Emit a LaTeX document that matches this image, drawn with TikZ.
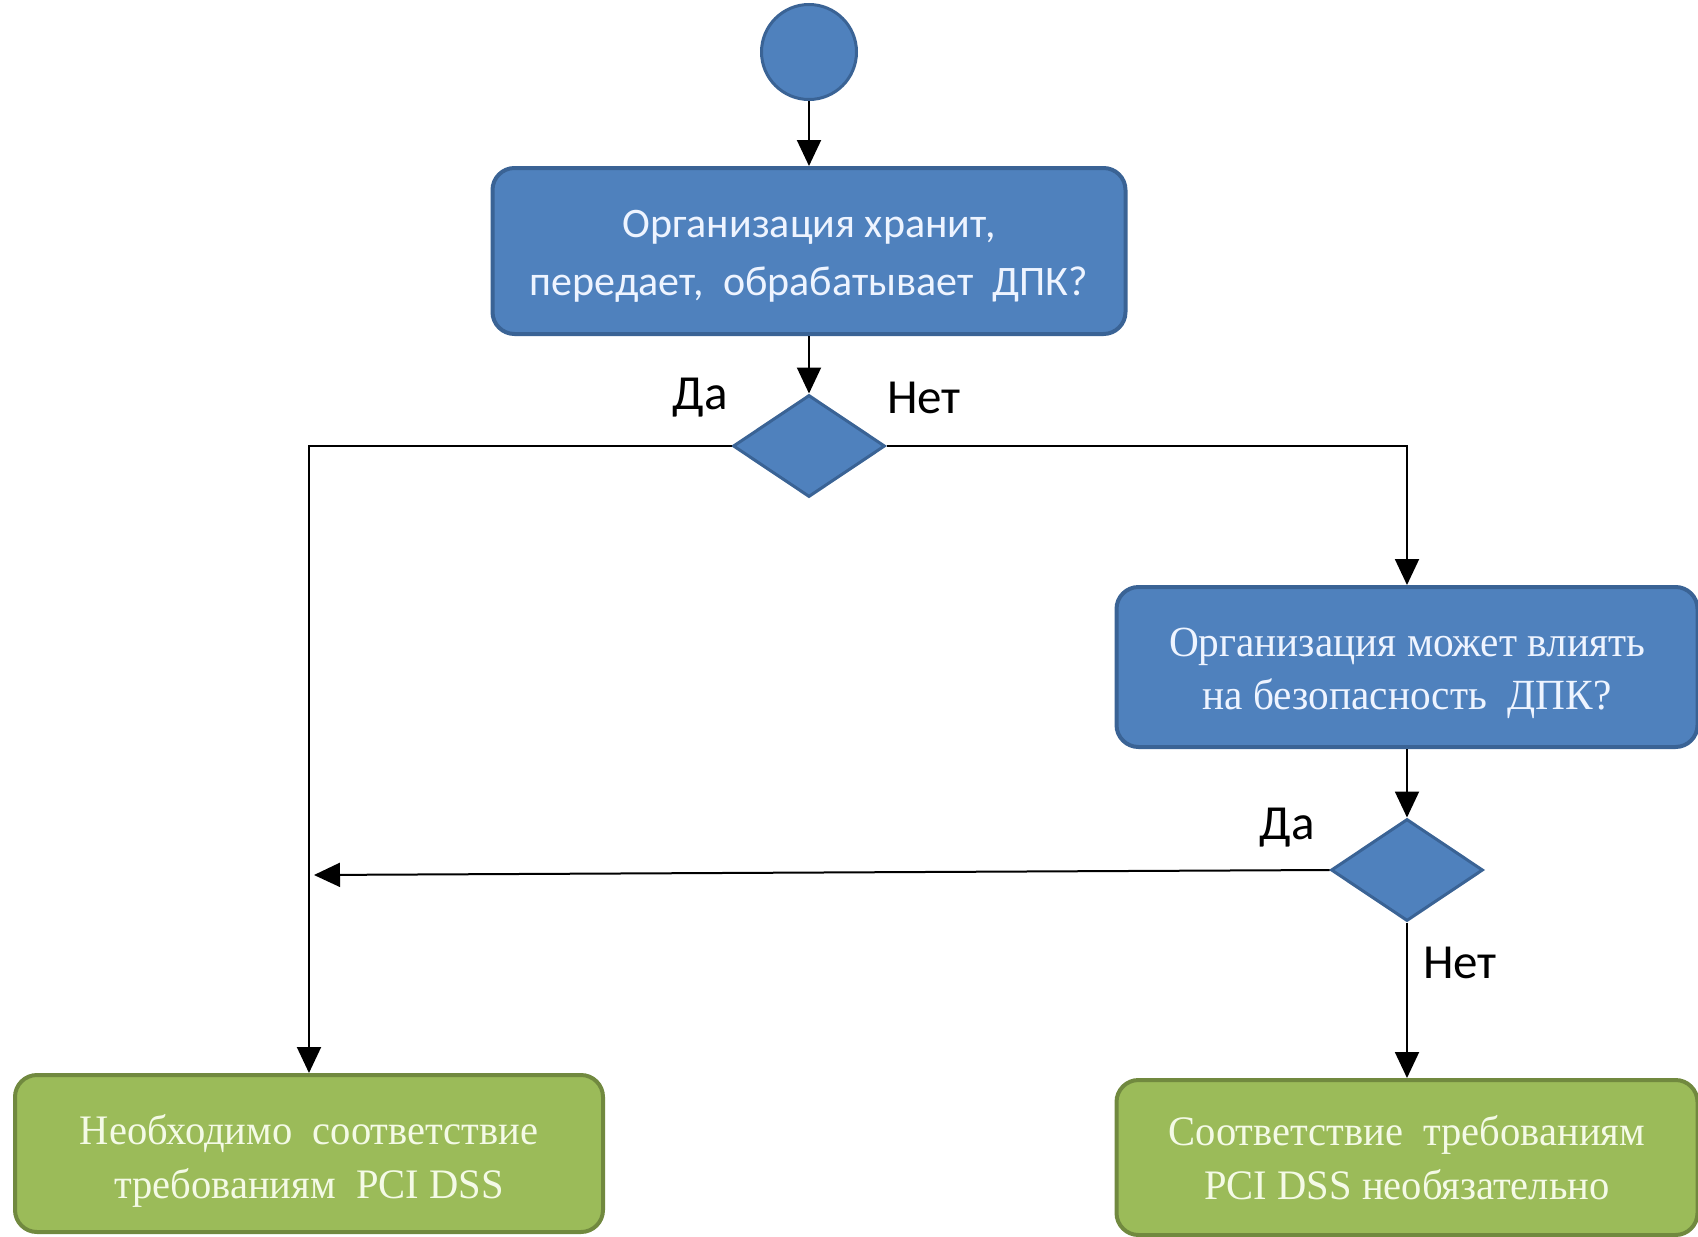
\documentclass[tikz,border=0pt]{standalone}
\usepackage{fontspec}
\usetikzlibrary{shapes.geometric,arrows.meta}
\newfontfamily\calfont{Carlito}
\newfontfamily\serfont[FakeStretch=0.96]{Liberation Serif}
\newfontfamily\sergfont[FakeStretch=0.965]{Liberation Serif}
\definecolor{bfill}{HTML}{4F81BD}
\definecolor{bline}{HTML}{3A6395}
\definecolor{gfill}{HTML}{9BBB59}
\definecolor{gline}{HTML}{71893F}
\definecolor{btext}{HTML}{EEF4FF}
\definecolor{gtext}{HTML}{F4FAE6}
\newcommand{\movedtext}[2]{\raisebox{#1}[\height][\depth]{\begin{tabular}{@{}c@{}}#2\end{tabular}}}
\tikzset{
  bluebox/.style={draw=bline, fill=bfill, line width=4pt, rounded corners=22pt, align=center, inner sep=0pt, text=btext},
  greenbox/.style={draw=gline, fill=gfill, line width=4pt, rounded corners=22pt, align=center, inner sep=0pt, text=gtext},
  decision/.style={diamond, draw=bline, fill=bfill, line width=3pt, inner sep=0pt, minimum width=152pt, minimum height=102pt},
  conn/.style={line width=2pt, -{Triangle[length=26pt,width=24pt]}},
  lbl/.style={font=\calfont\fontsize{49}{58}\selectfont, text=black, inner sep=0pt}
}
\begin{document}
\begin{tikzpicture}[x=1pt,y=-1pt]
\useasboundingbox (0,0) rectangle (1698,1237);
\node[circle, draw=bline, fill=bfill, line width=3pt, minimum size=95pt, inner sep=0pt] (start) at (809,52) {};
\node[bluebox, minimum width=633pt, minimum height=166pt, font=\calfont\fontsize{42}{58}\selectfont] (b1) at (809,251) {\movedtext{-4pt}{Организация хранит,\\передает,~~обрабатывает~~ДПК?}};
\node[decision] (d1) at (809,446) {};
\node[bluebox, minimum width=581pt, minimum height=160pt, font=\serfont\fontsize{43}{53}\selectfont] (b2) at (1407,667) {\movedtext{-5pt}{Организация может влиять\\на безопасность~~ДПК?}};
\node[decision] (d2) at (1407,870) {};
\node[greenbox, minimum width=588pt, minimum height=157pt, font=\sergfont\fontsize{42}{54}\selectfont] (b3) at (309,1153.5) {\movedtext{-7pt}{Необходимо~~соответствие\\требованиям~~PCI DSS}};
\node[greenbox, minimum width=581pt, minimum height=155pt, font=\sergfont\fontsize{42}{54}\selectfont] (b4) at (1407,1157.5) {\movedtext{-4pt}{Соответствие~~требованиям\\PCI DSS необязательно}};
\coordinate (lefthit) at (314,875);
\draw[conn] (start) -- (b1);
\draw[conn] (b1) -- (d1);
\draw[conn] (d1.west) -| (b3.north);
\draw[conn] (d1.east) -| (b2.north);
\draw[conn] (b2) -- (d2);
\draw[conn] (d2.west) -- (lefthit);
\draw[conn] (d2) -- (b4);
\node[lbl] (l1) at (700,398) {Да};
\node[lbl] (l2) at (924,398) {Нет};
\node[lbl] (l3) at (1287,828) {Да};
\node[lbl] (l4) at (1460,963) {Нет};
\end{tikzpicture}
\end{document}
